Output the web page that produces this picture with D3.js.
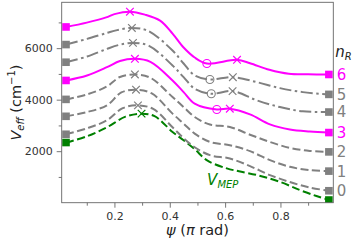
<!DOCTYPE html>
<html>
<head>
<meta charset="utf-8">
<script src="https://cdn.jsdelivr.net/npm/d3@7"></script>
<style>
  body { margin: 0; background: #fff; }
  text { font-family: "DejaVu Sans", sans-serif; }
</style>
</head>
<body>
<div id="chart"></div>
<script>
// effective potential curves, [psi (pi rad), V (cm^-1)]
var curveMEP = [[0.025, 2336], [0.101, 2580], [0.173, 2928], [0.24, 3340], [0.298, 3458], [0.345, 3360],
  [0.41, 2746], [0.45, 2425], [0.49, 2080], [0.535, 1640], [0.606, 1331], [0.65, 1220], [0.72, 1060],
  [0.8, 801], [0.87, 491], [0.93, 259], [0.975, 104]];
var curve0 = [[0.025, 2657], [0.101, 2889], [0.173, 3199], [0.23, 3670], [0.285, 3779], [0.34, 3640],
  [0.41, 2928], [0.45, 2503], [0.49, 2154], [0.545, 1845], [0.617, 1717], [0.69, 1420], [0.762, 1072],
  [0.834, 801], [0.906, 588], [0.975, 464]];
var curve1 = [[0.025, 3354], [0.101, 3520], [0.173, 3779], [0.225, 4280], [0.278, 4386], [0.335, 4240],
  [0.41, 3458], [0.45, 3071], [0.49, 2684], [0.545, 2359], [0.617, 2232], [0.69, 2000], [0.762, 1652],
  [0.834, 1392], [0.906, 1265], [0.975, 1226]];
var curve2 = [[0.025, 4011], [0.101, 4205], [0.173, 4514], [0.22, 4880], [0.274, 4978], [0.33, 4850],
  [0.41, 4100], [0.45, 3713], [0.49, 3326], [0.545, 3033], [0.617, 2940], [0.69, 2640], [0.762, 2359],
  [0.834, 2127], [0.906, 2011], [0.975, 1973]];
var curve3 = [[0.025, 4746], [0.101, 4939], [0.173, 5260], [0.22, 5500], [0.274, 5586], [0.33, 5470],
  [0.41, 4746], [0.45, 4293], [0.49, 3845], [0.57, 3620], [0.617, 3650], [0.69, 3430], [0.762, 3040],
  [0.834, 2839], [0.906, 2762], [0.975, 2723]];
var curve4 = [[0.025, 5454], [0.101, 5674], [0.173, 5972], [0.215, 6120], [0.267, 6204], [0.325, 6090],
  [0.41, 5326], [0.45, 4874], [0.49, 4425], [0.55, 4232], [0.627, 4332], [0.715, 3972], [0.798, 3713],
  [0.881, 3547], [0.975, 3520]];
var curve5 = [[0.025, 6139], [0.101, 6359], [0.173, 6591], [0.21, 6700], [0.263, 6784], [0.32, 6680],
  [0.41, 5907], [0.45, 5404], [0.49, 4940], [0.545, 4785], [0.628, 4874], [0.715, 4680], [0.798, 4448],
  [0.881, 4293], [0.975, 4205]];
var curve6 = [[0.025, 6823], [0.1, 6990], [0.17, 7195], [0.2, 7320], [0.256, 7415], [0.31, 7300],
  [0.365, 7067], [0.41, 6564], [0.45, 6023], [0.49, 5636], [0.534, 5404], [0.643, 5547], [0.69, 5415],
  [0.76, 5160], [0.83, 5005], [0.9, 4985], [0.975, 4978]];

// barrier tops (x markers)
var peaksMEP = [[0.298, 3458]];
var peaksGray = [[0.285, 3779], [0.278, 4386], [0.274, 4978], [0.267, 6204], [0.263, 6784]];
var peaksMagenta = [[0.274, 5586], [0.256, 7415]];
// second well minima (circles) and the maxima after them (x markers)
var minGray = [[0.55, 4232], [0.545, 4785]];
var minMagenta = [[0.57, 3620], [0.534, 5404]];
var max2Gray = [[0.627, 4332], [0.628, 4874]];
var max2Magenta = [[0.617, 3650], [0.643, 5547]];

var nR = [0, 1, 2, 3, 4, 5, 6];
var xTicks = [0.2, 0.4, 0.6, 0.8];
var xMinor = [0.1, 0.3, 0.5, 0.7, 0.9];
var yTicks = [2000, 4000, 6000];
var yMinor = [1000, 3000, 5000, 7000];

var magenta = "#ff00ff", gray = "#808080", green = "#008000";
var dashed = "8,3.5", dashdot = "12,3.5,2.5,3.5";

var series = [
  {data: curveMEP, color: green, dash: dashed},
  {data: curve0, color: gray, dash: dashed, n: 0},
  {data: curve1, color: gray, dash: dashed, n: 1},
  {data: curve2, color: gray, dash: dashed, n: 2},
  {data: curve3, color: magenta, dash: null, n: 3},
  {data: curve4, color: gray, dash: dashdot, n: 4},
  {data: curve5, color: gray, dash: dashdot, n: 5},
  {data: curve6, color: magenta, dash: null, n: 6}
];

// set the dimensions and margins of the graph
var margin = {top: 2.3, right: 20.7, bottom: 41.3, left: 61.7},
  width = 354 - margin.left - margin.right,
  height = 244 - margin.top - margin.bottom;

var svg = d3.select("#chart")
  .append("svg")
  .attr("width", 354)
  .attr("height", 244)
  .append("g")
  .attr("transform", "translate(" + margin.left + "," + margin.top + ")");

var x = d3.scaleLinear().domain([0.0094, 0.991]).range([0, width]);
var y = d3.scaleLinear().domain([0, 7780]).range([height, 0]);

svg.append("clipPath").attr("id", "clip")
  .append("rect").attr("width", width).attr("height", height);

// axes
function styleAxis(g) {
  g.select(".domain").remove();
  g.selectAll("line").attr("stroke", "#666").attr("stroke-width", 0.9);
  g.selectAll("text").attr("fill", "#333").style("font-size", "11px");
}
svg.append("g").attr("transform", "translate(0," + height + ")")
  .call(d3.axisBottom(x).tickValues(xTicks).tickSize(5).tickPadding(4.5).tickFormat(d3.format(".1f")))
  .call(styleAxis);
svg.append("g").attr("transform", "translate(0," + height + ")")
  .call(d3.axisBottom(x).tickValues(xMinor).tickSize(3).tickFormat(""))
  .call(styleAxis);
svg.append("g")
  .call(d3.axisLeft(y).tickValues(yTicks).tickSize(5).tickPadding(4).tickFormat(d3.format("d")))
  .call(styleAxis);
svg.append("g")
  .call(d3.axisLeft(y).tickValues(yMinor).tickSize(3).tickFormat(""))
  .call(styleAxis);

var plot = svg.append("g").attr("clip-path", "url(#clip)");

var line = d3.line()
  .x(function(d) { return x(d[0]); })
  .y(function(d) { return y(d[1]); })
  .curve(d3.curveCatmullRom.alpha(0.5));

plot.selectAll(".curve")
  .data(series)
  .join("path")
  .attr("class", "curve")
  .attr("fill", "none")
  .attr("stroke", function(d) { return d.color; })
  .attr("stroke-width", 2)
  .attr("stroke-dasharray", function(d) { return d.dash; })
  .attr("d", function(d) { return line(d.data); });

// end squares
series.forEach(function(s) {
  var ends = [s.data[0], s.data[s.data.length - 1]];
  plot.selectAll(null)
    .data(ends)
    .join("rect")
    .attr("x", function(d) { return x(d[0]) - 3.8; })
    .attr("y", function(d) { return y(d[1]) - 3.8; })
    .attr("width", 7.6)
    .attr("height", 7.6)
    .attr("fill", s.color);
});

function crosses(data, color) {
  var r = 3.8;
  plot.selectAll(null)
    .data(data)
    .join("path")
    .attr("d", function(d) {
      var cx = x(d[0]), cy = y(d[1]);
      return "M" + (cx - r) + "," + (cy - r) + "L" + (cx + r) + "," + (cy + r) +
        "M" + (cx - r) + "," + (cy + r) + "L" + (cx + r) + "," + (cy - r);
    })
    .attr("stroke", color)
    .attr("stroke-width", 1.2)
    .attr("fill", "none");
}
function circles(data, color) {
  plot.selectAll(null)
    .data(data)
    .join("circle")
    .attr("cx", function(d) { return x(d[0]); })
    .attr("cy", function(d) { return y(d[1]); })
    .attr("r", 4)
    .attr("fill", "none")
    .attr("stroke", color)
    .attr("stroke-width", 1.1);
}
crosses(peaksMEP, green);
crosses(peaksGray, gray);
crosses(peaksMagenta, magenta);
crosses(max2Gray, gray);
crosses(max2Magenta, magenta);
circles(minGray, gray);
circles(minMagenta, magenta);

// frame
svg.append("rect")
  .attr("width", width).attr("height", height)
  .attr("fill", "none").attr("stroke", "#666").attr("stroke-width", 0.9);

// n_R labels on the right
var labelled = series.filter(function(s) { return s.n !== undefined; });
svg.selectAll(".nlab")
  .data(labelled)
  .join("text")
  .attr("class", "nlab")
  .attr("x", width + 3.5)
  .attr("y", function(d) { return y(d.data[d.data.length - 1][1]); })
  .attr("dy", "0.36em")
  .attr("fill", function(d) { return d.color; })
  .style("font-size", "15px")
  .text(function(d) { return nR[d.n]; });

var nl = svg.append("text")
  .attr("x", width + 2)
  .attr("y", 55)
  .attr("fill", "#222")
  .style("font-size", "15px");
nl.append("tspan").attr("font-style", "italic").text("n");
nl.append("tspan").attr("font-style", "italic").attr("dy", 3).style("font-size", "10px").text("R");

// V_MEP label
var vm = svg.append("text")
  .attr("x", x(0.535))
  .attr("y", 182.7)
  .attr("fill", green)
  .style("font-size", "15px");
vm.append("tspan").attr("font-style", "italic").text("V");
vm.append("tspan").attr("font-style", "italic").attr("dy", 3).style("font-size", "10px").text("MEP");

// axis labels
var xl = svg.append("text")
  .attr("x", width / 2)
  .attr("y", height + 32)
  .attr("text-anchor", "middle")
  .attr("fill", "#222")
  .style("font-size", "14.5px");
xl.append("tspan").attr("font-style", "italic").text("ψ");
xl.append("tspan").text(" (");
xl.append("tspan").attr("font-style", "italic").text("π");
xl.append("tspan").text(" rad)");

var yl = svg.append("text")
  .attr("transform", "translate(" + (-41) + "," + (height / 2) + ") rotate(-90)")
  .attr("text-anchor", "middle")
  .attr("fill", "#222")
  .style("font-size", "14.5px");
yl.append("tspan").attr("font-style", "italic").text("V");
yl.append("tspan").attr("font-style", "italic").attr("dy", 3).style("font-size", "10px").text("eff");
yl.append("tspan").attr("dy", -3).text(" (cm");
yl.append("tspan").attr("dy", -6).style("font-size", "10px").text("−1");
yl.append("tspan").attr("dy", 6).text(")");
</script>
</body>
</html>
